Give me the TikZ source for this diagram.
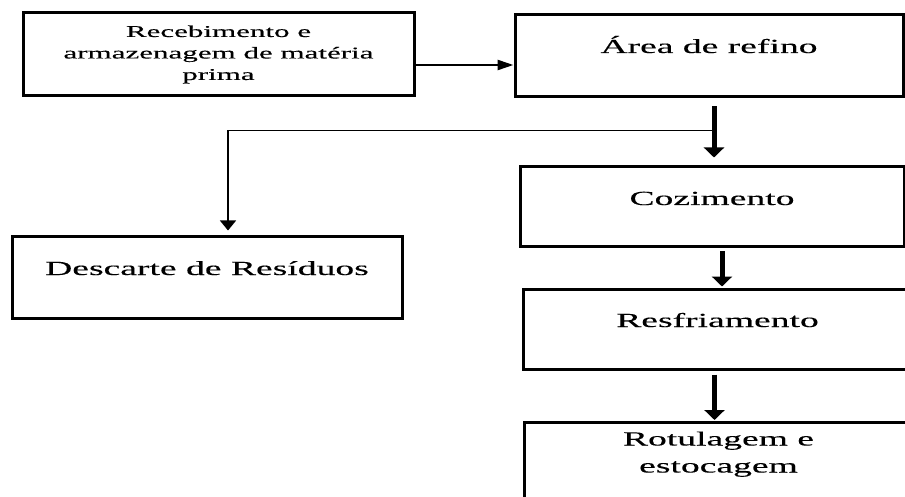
\documentclass[tikz,border=0pt]{standalone}
\usepackage{fontspec}
\setmainfont[FakeStretch=1.88,FakeBold=0.3]{Liberation Serif}
\usetikzlibrary{arrows.meta}
\begin{document}
\begin{tikzpicture}[x=1pt,y=-1pt,
    etapa/.style={draw,line width=3pt,inner sep=0pt,font=\fontsize{20}{27}\selectfont},
    seta/.style={line width=5pt,-{Triangle[length=10pt,width=20pt]}},
    fina/.style={line width=1.2pt,-{Triangle[length=10pt,width=16pt]}}]
    \useasboundingbox (0,0) rectangle (905,497);
    \clip (0,0) rectangle (905,497);
    \node[etapa,minimum width=391pt,minimum height=83pt,align=center,font=\fontsize{16.5}{21.5}\selectfont] (receb) at (218.5,54.5) {Recebimento e\\armazenagem de matéria\\prima};
    \node[etapa,minimum width=388pt,minimum height=82pt,text height=38pt,text depth=44pt] (refino) at (709,56) {Área de refino};
    \node[etapa,minimum width=384pt,minimum height=80pt,text height=38pt,text depth=42pt] (cozim) at (712,207) {Cozimento};
    \node[etapa,minimum width=390pt,minimum height=81pt,text height=38pt,text depth=43pt] (descarte) at (207,277.5) {Descarte de Resíduos};
    \node[etapa,minimum width=389pt,minimum height=80pt,text height=38pt,text depth=42pt] (resfr) at (717.5,329) {Resfriamento};
    \node[etapa,minimum width=389pt,anchor=north,align=center,text height=50pt,text depth=50pt] (rotul) at (718.5,421) {Rotulagem e\\estocagem};
    \draw[line width=2.5pt,-{Triangle[length=16pt,width=10pt]}] ([yshift=-10.5pt]receb.east) -- ([yshift=-10.5pt]receb.east -| refino.west);
    \draw[seta,shorten <=8pt,shorten >=8pt] ([xshift=5pt]refino.south) -- ([xshift=5pt]refino.south |- cozim.north);
    \coordinate (ramo) at ([xshift=5pt,yshift=-32pt]refino.south);
    \draw[fina,shorten >=5pt] (ramo) -| ([xshift=21pt]descarte.north);
    \draw[seta,shorten <=3pt,shorten >=1pt] ([xshift=10pt]cozim.south) -- ([xshift=10pt]cozim.south |- resfr.north);
    \draw[seta,shorten <=4pt,shorten >=1pt] ([xshift=-3pt]resfr.south) -- ([xshift=-3pt]resfr.south |- rotul.north);
\end{tikzpicture}
\end{document}
